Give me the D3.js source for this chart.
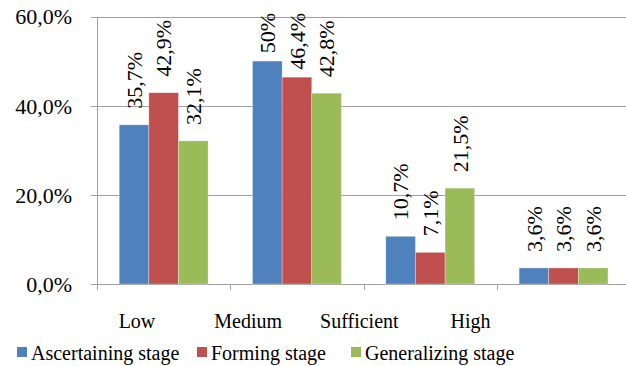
<!DOCTYPE html>
<html><head><meta charset="utf-8">
<script src="https://cdn.jsdelivr.net/npm/d3@7"></script>
</head><body style="margin:0">
<svg id="c" width="626" height="366"></svg>
<script>
const categories = ["Low", "Medium", "Sufficient", "High"];
const seriesNames = ["Ascertaining stage", "Forming stage", "Generalizing stage"];
const ascertaining = [35.7, 50, 10.7, 3.6];
const forming = [42.9, 46.4, 7.1, 3.6];
const generalizing = [32.1, 42.8, 21.5, 3.6];
const labelsAscertaining = ["35,7%", "50%", "10,7%", "3,6%"];
const labelsForming = ["42,9%", "46,4%", "7,1%", "3,6%"];
const labelsGeneralizing = ["32,1%", "42,8%", "21,5%", "3,6%"];
const yTicks = [0, 20, 40, 60];
const yTickLabels = ["0,0%", "20,0%", "40,0%", "60,0%"];

const colors = ["#4f81bd", "#c0504d", "#9bbb59"];
const seriesValues = [ascertaining, forming, generalizing];
const seriesLabels = [labelsAscertaining, labelsForming, labelsGeneralizing];
const FONT = '"Liberation Serif", "Times New Roman", serif';

const svg = d3.select("#c");
const x0 = 97, yBase = 284;
const y = d3.scaleLinear().domain([0, 60]).range([yBase, 16.5]);
const x = d3.scaleBand().domain(categories).range([x0, x0 + 4 * 133.3]).paddingInner(0).paddingOuter(0);
const xs = d3.scaleBand().domain(seriesNames).range([0, x.bandwidth()]).paddingInner(0).paddingOuter(0.75);
const xLabel = d3.scalePoint().domain(categories).range([137, 470.5]);

function txt(s, size) {
  return svg.append("text")
    .style("font-family", FONT, "important")
    .style("font-size", size + "px", "important")
    .style("font-weight", "normal")
    .text(s);
}

const grid = "#a0a0a0";
yTicks.forEach(d => {
  svg.append("line").attr("x1", x0 - 6).attr("x2", 626)
    .attr("y1", Math.round(y(d)) + 0.5).attr("y2", Math.round(y(d)) + 0.5)
    .attr("stroke", grid).attr("stroke-width", 1);
});
svg.append("line").attr("x1", x0 + 0.5).attr("x2", x0 + 0.5)
  .attr("y1", Math.round(y(60))).attr("y2", yBase + 6).attr("stroke", grid);
categories.forEach((d, i) => {
  const xx = Math.round(x0 + (i + 1) * x.step()) + 0.5;
  svg.append("line").attr("x1", xx).attr("x2", xx).attr("y1", yBase).attr("y2", yBase + 6).attr("stroke", grid);
});
yTicks.forEach((d, i) => {
  txt(yTickLabels[i], 22).attr("x", 72).attr("y", y(d)).attr("dy", "0.36em").attr("text-anchor", "end");
});

const rows = [];
seriesNames.forEach((s, si) => categories.forEach((c, ci) => rows.push({s, si, c, v: seriesValues[si][ci], lab: seriesLabels[si][ci]})));
rows.forEach(d => {
  svg.append("rect")
    .attr("x", x(d.c) + xs(d.s)).attr("y", y(d.v))
    .attr("width", xs.bandwidth()).attr("height", yBase - y(d.v))
    .attr("fill", colors[d.si])
    .attr("stroke", "rgba(255,255,255,0.5)").attr("stroke-width", 0.6);
});

rows.forEach(d => {
  const cx = x(d.c) + xs(d.s) + xs.bandwidth() / 2;
  const t = txt(d.lab, 22).attr("text-anchor", "start").attr("dy", "0.35em");
  const len = t.node().getComputedTextLength();
  const yb = Math.max(y(d.v) - 16, 13 + len);
  t.attr("transform", `translate(${cx},${yb}) rotate(-90)`);
});

categories.forEach(d => {
  txt(d, 20).attr("x", xLabel(d)).attr("y", 328).attr("text-anchor", "middle");
});

const legX = [17, 197, 351];
seriesNames.forEach((d, i) => {
  svg.append("rect").attr("x", legX[i]).attr("y", 347).attr("width", 10).attr("height", 10).attr("fill", colors[i]);
  txt(d, 20).attr("x", legX[i] + 14).attr("y", 360);
});
</script></body></html>
